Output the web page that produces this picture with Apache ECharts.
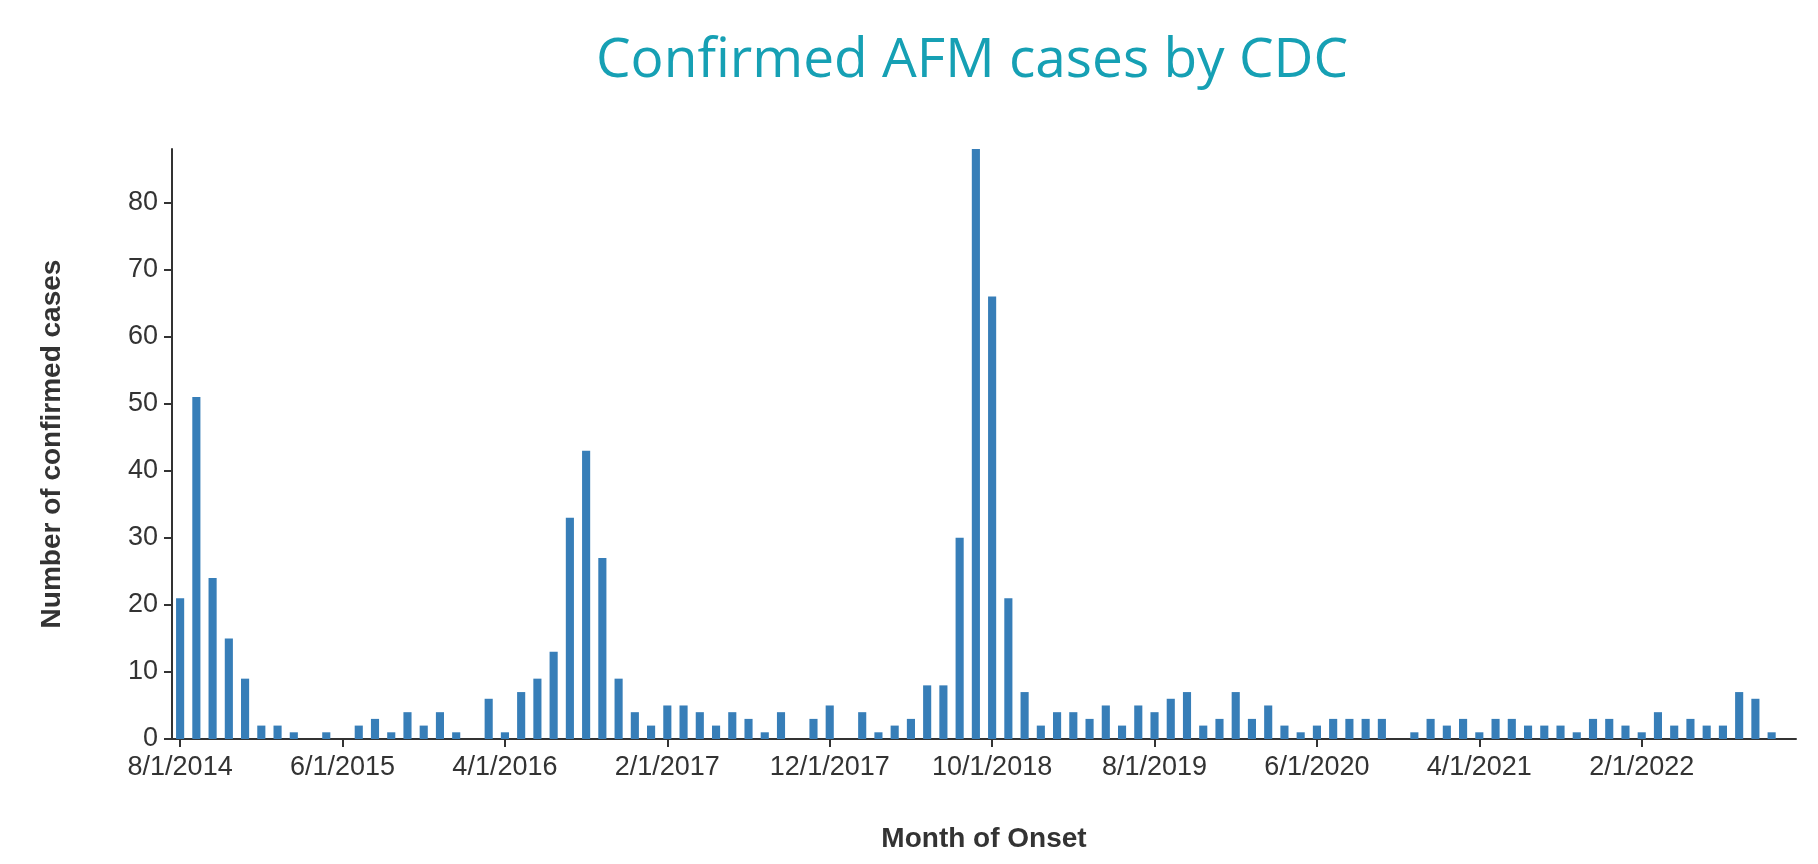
<!DOCTYPE html>
<html>
<head>
<meta charset="utf-8">
<script src="https://cdn.jsdelivr.net/npm/echarts@6/dist/echarts.min.js"></script>
<style>
html,body{margin:0;padding:0;background:#fff;}
#chart{width:1818px;height:864px;}
</style>
</head>
<body>
<div id="chart"></div>
<script>
// Month of onset (first day of each month), Aug 2014 - Nov 2022
const startYear = 2014, startMonth = 8, monthCount = 100;
const months = [];
for (let i = 0; i < monthCount; i++) {
  const m = (startMonth - 1 + i) % 12 + 1;
  const y = startYear + Math.floor((startMonth - 1 + i) / 12);
  months.push(m + '/1/' + y);
}
// Confirmed AFM cases per month
const cases = [
  21, 51, 24, 15, 9, 2, 2, 1, 0, 1,
  0, 2, 3, 1, 4, 2, 4, 1, 0, 6,
  1, 7, 9, 13, 33, 43, 27, 9, 4, 2,
  5, 5, 4, 2, 4, 3, 1, 4, 0, 3,
  5, 0, 4, 1, 2, 3, 8, 8, 30, 88,
  66, 21, 7, 2, 4, 4, 3, 5, 2, 5,
  4, 6, 7, 2, 3, 7, 3, 5, 2, 1,
  2, 3, 3, 3, 3, 0, 1, 3, 2, 3,
  1, 3, 3, 2, 2, 2, 1, 3, 3, 2,
  1, 4, 2, 3, 2, 2, 7, 6, 1, 0
];
const yTicks = [0, 10, 20, 30, 40, 50, 60, 70, 80];
const yMax = 88;

const chart = echarts.init(document.getElementById('chart'), null, {renderer: 'canvas'});
const axisColor = '#333';
chart.setOption({
  animation: false,
  backgroundColor: '#fff',
  title: {
    text: 'Confirmed AFM cases by CDC',
    left: 967, top: 29, textAlign: 'center',
    textStyle: {fontFamily: 'Open Sans', fontWeight: 'normal', fontSize: 55, color: '#16a0b4'}
  },
  grid: {left: 172, right: 22, top: 149, bottom: 125, containLabel: false},
  xAxis: {
    type: 'category',
    data: months,
    boundaryGap: true,
    name: 'Month of Onset',
    nameLocation: 'middle',
    nameGap: 86,
    nameTextStyle: {fontFamily: 'Liberation Sans', fontWeight: 'bold', fontSize: 28, color: axisColor},
    axisLine: {lineStyle: {color: axisColor, width: 2}},
    axisTick: {show: true, alignWithLabel: true, interval: 9, length: 8, lineStyle: {color: axisColor, width: 2}},
    axisLabel: {interval: 9, margin: 15, fontFamily: 'Liberation Sans', fontSize: 27, color: axisColor}
  },
  yAxis: {
    type: 'value',
    min: 0, max: yMax,
    name: 'Number of confirmed cases',
    nameLocation: 'middle',
    nameGap: 106,
    nameRotate: 90,
    nameTextStyle: {fontFamily: 'Liberation Sans', fontWeight: 'bold', fontSize: 28, color: axisColor},
    splitLine: {show: false},
    axisLine: {show: true, lineStyle: {color: axisColor, width: 2}},
    axisTick: {show: true, length: 8, customValues: yTicks, lineStyle: {color: axisColor, width: 2}},
    axisLabel: {customValues: yTicks, margin: 14, fontFamily: 'Liberation Sans', fontSize: 27, color: axisColor}
  },
  series: [{
    type: 'bar',
    data: cases,
    barCategoryGap: '50%',
    itemStyle: {color: '#377eb8'}
  }]
});
</script>
</body>
</html>
